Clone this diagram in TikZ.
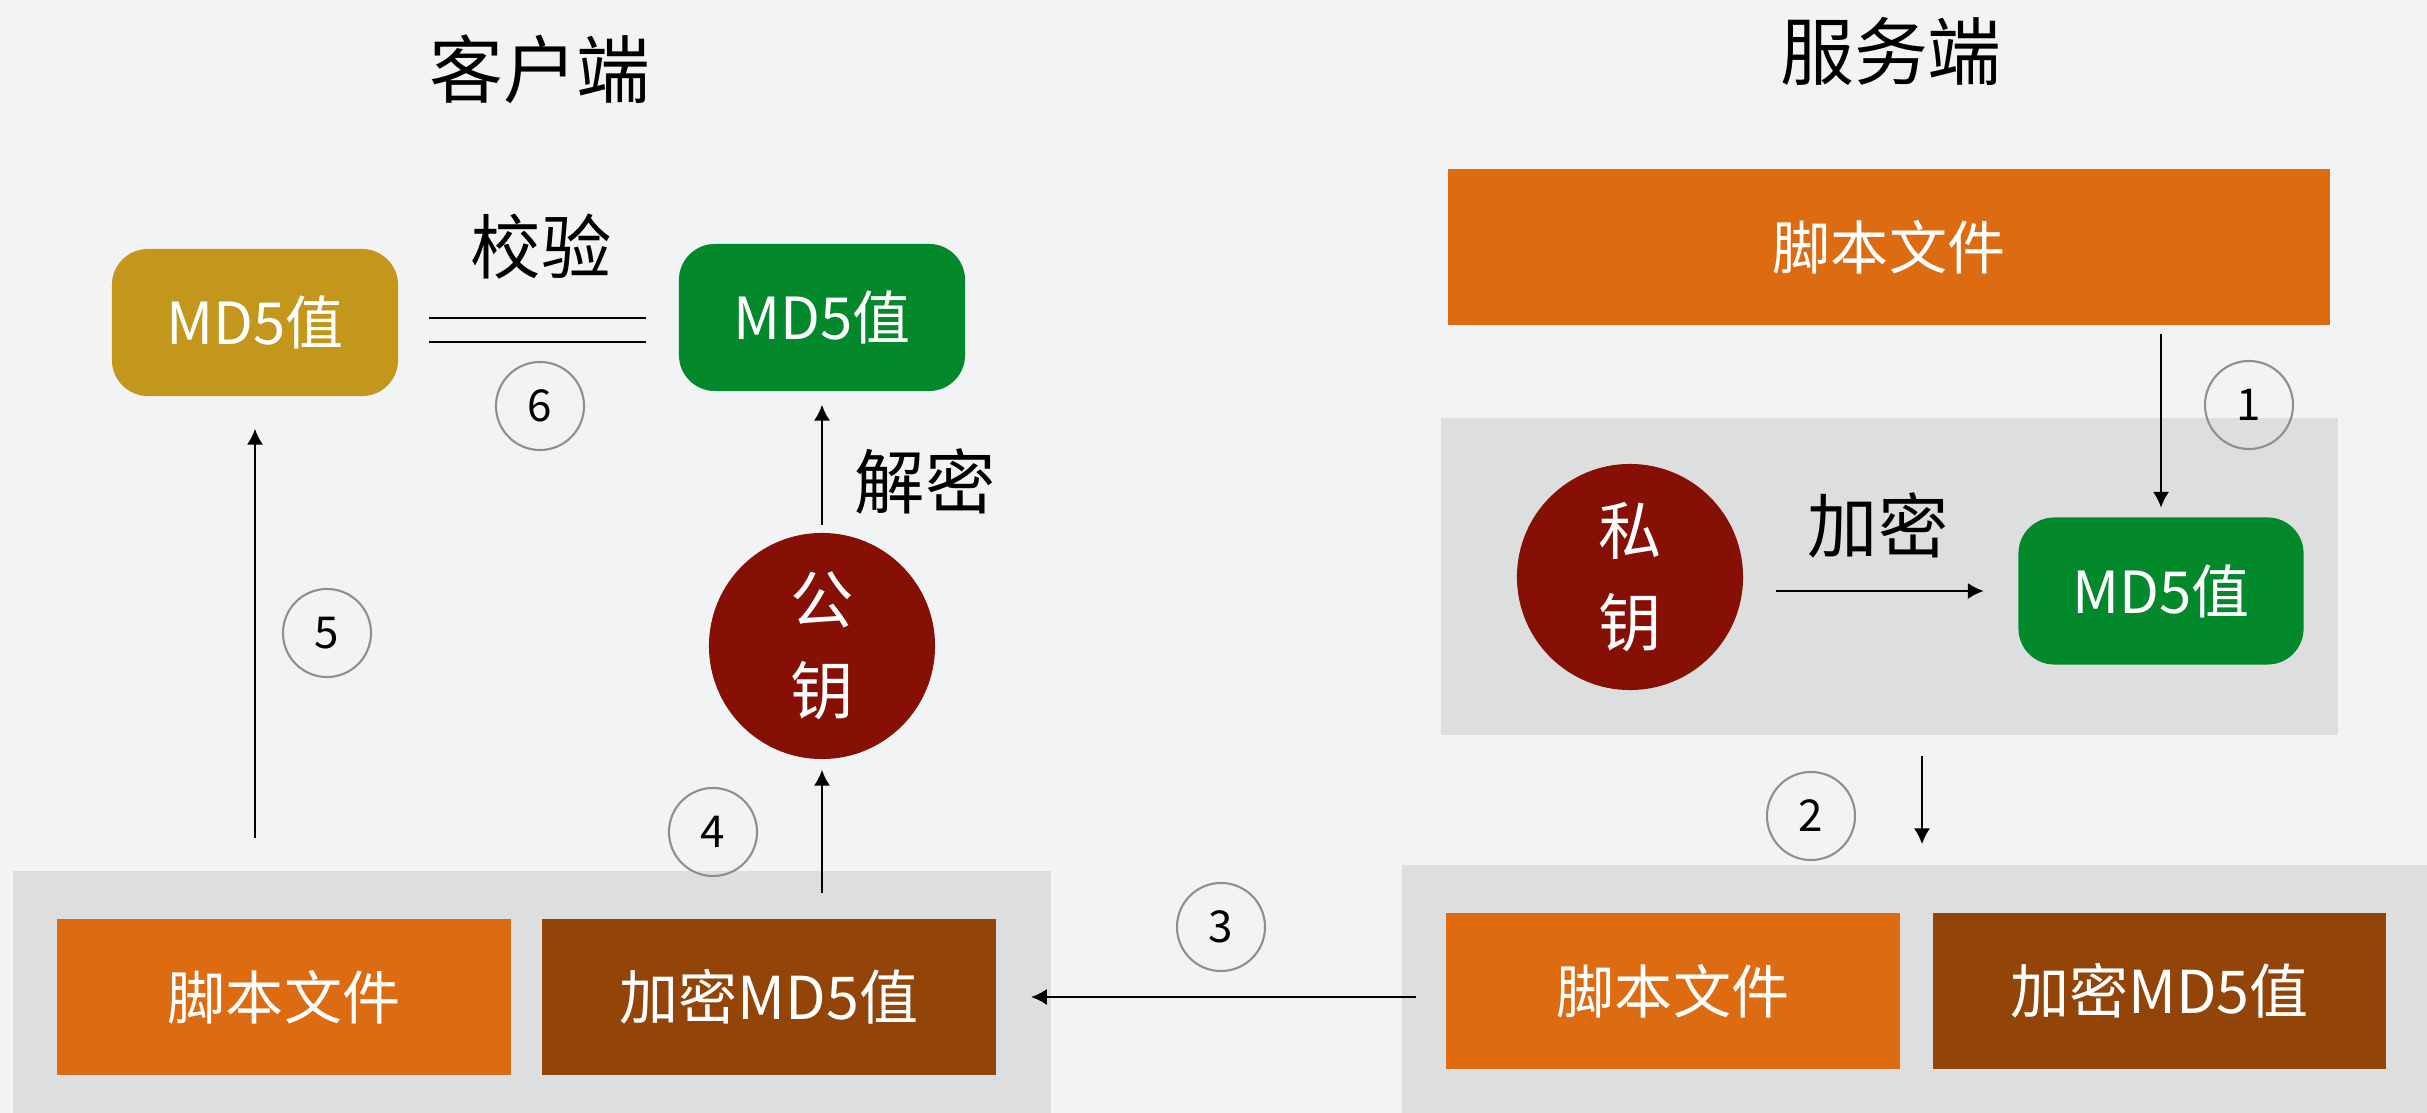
\documentclass[tikz,border=0pt]{standalone}
\usepackage{fontspec}
\setmainfont{Noto Sans CJK SC}
\usetikzlibrary{arrows.meta}
\definecolor{bgc}{HTML}{F2F3F5}
\definecolor{panelc}{HTML}{DDDEE0}
\definecolor{orangec}{HTML}{DD6B11}
\definecolor{brownc}{HTML}{924409}
\definecolor{keyc}{HTML}{861005}
\definecolor{greenc}{HTML}{04882C}
\definecolor{goldc}{HTML}{C3971C}
\definecolor{ringc}{HTML}{8F8F8F}
\tikzset{
  panel/.style={fill=panelc, draw=none, inner sep=0pt},
  filebox/.style={fill=orangec, draw=none, text=white, font=\fontsize{16.5}{18}\selectfont, inner sep=0pt},
  encbox/.style={fill=brownc, draw=none, text=white, font=\fontsize{16.8}{18}\selectfont, inner sep=0pt},
  md5box/.style={draw=none, text=white, rounded corners=0.36cm, font=\fontsize{16.5}{18}\selectfont, inner sep=0pt, minimum width=2.86cm, minimum height=1.47cm},
  keycircle/.style={circle, fill=keyc, draw=none, text=white, minimum size=2.26cm, inner sep=0pt, align=center, font=\fontsize{18}{26}\selectfont},
  stepnum/.style={circle, draw=ringc, line width=0.6pt, minimum size=0.88cm, inner sep=0pt, font=\fontsize{12.5}{14}\selectfont},
  lbl/.style={font=\fontsize{20}{22}\selectfont, inner sep=0pt},
  ttl/.style={font=\fontsize{21}{24}\selectfont, inner sep=0pt},
  arr/.style={-{Latex[length=4.5pt,width=4.6pt]}, line width=0.7pt},
  eqline/.style={line width=0.75pt}
}
\begin{document}
\begin{tikzpicture}[x=0.01cm, y=-0.01cm]
\useasboundingbox (0,0) rectangle (2427,1113);
\fill[bgc] (0,0) rectangle (2427,1113);

% titles
\node[ttl] (tclient) at (540,69) {客户端};
\node[ttl] (tserver) at (1891,51) {服务端};

% server side
\node[filebox, minimum width=8.82cm, minimum height=1.56cm] (sfile) at (1889,247) {脚本文件};
\node[panel, minimum width=8.97cm, minimum height=3.17cm] (spanel) at (1889.5,576.5) {};
\node[keycircle] (skey) at (1630,577) {私\\钥};
\node[md5box, fill=greenc, minimum width=2.85cm] (smd5) at (2161,591) {MD5值};
\node[lbl] (lenc) at (1878,525) {加密};

% bottom right panel
\node[panel, minimum width=10.25cm, minimum height=2.48cm] (rpanel) at (1914.5,989) {};
\node[filebox, minimum width=4.54cm, minimum height=1.56cm] (rfile) at (1673,991) {脚本文件};
\node[encbox, minimum width=4.53cm, minimum height=1.56cm] (renc) at (2159.5,991) {加密MD5值};

% bottom left panel
\node[panel, minimum width=10.38cm, minimum height=2.42cm] (lpanel) at (532,992) {};
\node[filebox, minimum width=4.54cm, minimum height=1.56cm] (lfile) at (284,997) {脚本文件};
\node[encbox, minimum width=4.54cm, minimum height=1.56cm] (lenc2) at (769,997) {加密MD5值};

% client side
\node[keycircle] (pubkey) at (822,646) {公\\钥};
\node[md5box, fill=greenc] (cmd5) at (822,317.5) {MD5值};
\node[md5box, fill=goldc] (gmd5) at (255,322.5) {MD5值};
\node[lbl] (ldec) at (925,482) {解密};
\node[lbl] (lchk) at (541,247) {校验};

% step numbers
\node[stepnum] (n1) at (2249,405) {1};
\node[stepnum] (n2) at (1811,816) {2};
\node[stepnum] (n3) at (1221,927) {3};
\node[stepnum] (n4) at (713,832) {4};
\node[stepnum] (n5) at (327,633) {5};
\node[stepnum] (n6) at (540,406) {6};

% connectors
\draw[arr, shorten <=0.08cm, shorten >=0.09cm] (smd5 |- sfile.south) -- (smd5.north);
\draw[arr, shorten <=0.32cm, shorten >=0.34cm] (skey.east |- smd5.west) -- (smd5.west);
\coordinate (a2) at (1922,0);
\draw[arr, shorten <=0.2cm, shorten >=0.2cm] (a2 |- spanel.south) -- (a2 |- rpanel.north);
\draw[arr, shorten <=-0.15cm, shorten >=-0.21cm] (rpanel.west |- lenc2) -- (lpanel.east |- lenc2);
\draw[arr, shorten <=0.25cm, shorten >=0.1cm] (pubkey |- lenc2.north) -- (pubkey.south);
\draw[arr, shorten <=0.07cm, shorten >=0.13cm] (pubkey.north) -- (cmd5.south);
\draw[arr, shorten <=0.8cm, shorten >=0.32cm] (gmd5 |- lfile.north) -- (gmd5.south);
\coordinate (eqL) at (429,330);
\coordinate (eqR) at (646,330);
\draw[eqline] ([yshift=0.12cm]eqL) -- ([yshift=0.12cm]eqR);
\draw[eqline] ([yshift=-0.12cm]eqL) -- ([yshift=-0.12cm]eqR);
\end{tikzpicture}
\end{document}
